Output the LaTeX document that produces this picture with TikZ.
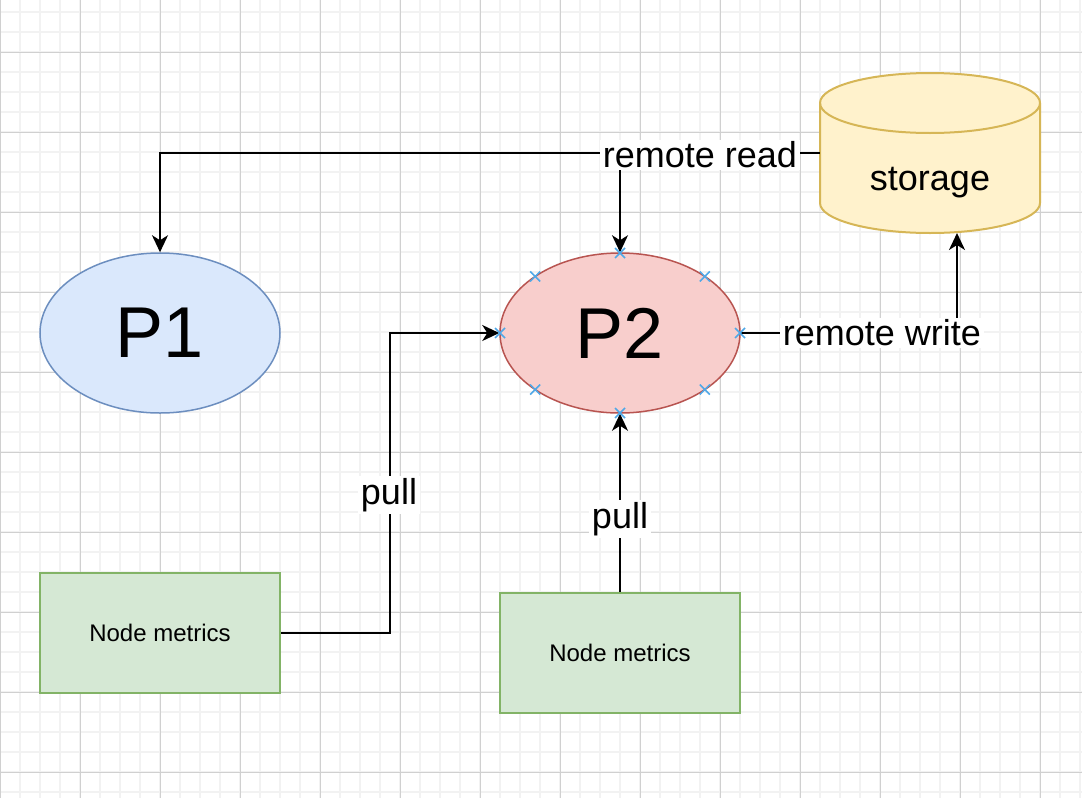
\documentclass[tikz,border=0pt]{standalone}
\usepackage{fontspec}
\setmainfont{Liberation Sans}
\usetikzlibrary{arrows.meta,shapes.geometric}
\definecolor{bluefill}{HTML}{DAE8FC}
\definecolor{bluedraw}{HTML}{6C8EBF}
\definecolor{redfill}{HTML}{F8CECC}
\definecolor{reddraw}{HTML}{B85450}
\definecolor{yelfill}{HTML}{FFF2CC}
\definecolor{yeldraw}{HTML}{D6B656}
\definecolor{grnfill}{HTML}{D5E8D4}
\definecolor{grndraw}{HTML}{82B366}
\definecolor{gridminor}{HTML}{F2F2F2}
\definecolor{gridmajor}{HTML}{D0D0D0}
\definecolor{markblue}{HTML}{4FA8E8}
\tikzset{
  proc/.style={ellipse, minimum width=240pt, minimum height=160pt, inner sep=0pt, line width=1.5pt, font=\fontsize{72}{80}\selectfont},
  metricbox/.style={rectangle, minimum width=240pt, minimum height=120pt, inner sep=0pt, fill=grnfill, draw=grndraw, line width=2pt, font=\fontsize{24}{28}\selectfont},
  conn/.style={line width=2pt, -{Stealth[length=17pt,width=16pt,inset=5pt]}},
  elabel/.style={fill=white, inner xsep=3pt, inner ysep=2pt, font=\fontsize{36}{40}\selectfont},
  xmark/.style={markblue, line width=1.5pt}
}
\begin{document}
\begin{tikzpicture}[x=1pt,y=-1pt]
\useasboundingbox (0,0) rectangle (1082,798);
\fill[white] (0,0) rectangle (1082,798);
% grid
\foreach \x in {0,20,...,1080} \draw[gridminor, line width=1.5pt] (\x,0) -- (\x,798);
\foreach \y in {12,32,...,792} \draw[gridminor, line width=1.5pt] (0,\y) -- (1082,\y);
\foreach \x in {0,80,...,1040} \draw[gridmajor, line width=0.8pt] (\x,0) -- (\x,798);
\foreach \y in {52,132,...,772} \draw[gridmajor, line width=0.8pt] (0,\y) -- (1082,\y);

% nodes
\node[proc, fill=bluefill, draw=bluedraw] (p1) at (160,333) {P1};
\node[proc, fill=redfill, draw=reddraw] (p2) at (620,333) {P2};
\node[metricbox] (nm1) at (160,633) {Node metrics};
\node[metricbox] (nm2) at (620,653) {Node metrics};

% storage cylinder
\node[rectangle, minimum width=220pt, minimum height=160pt, inner sep=0pt] (storage) at (930,153) {};
\path[fill=yelfill, draw=yeldraw, line width=2pt] (820,103) -- (820,203)
  arc[start angle=180, end angle=360, x radius=110pt, y radius=30pt] -- (1040,103)
  arc[start angle=0, end angle=180, x radius=110pt, y radius=30pt] -- cycle;
\draw[yeldraw, line width=2pt] (1040,103) arc[start angle=0, end angle=-180, x radius=110pt, y radius=30pt];
\node[font=\fontsize{36}{40}\selectfont] (stlabel) at (930,183) {storage};

% connection points
\coordinate (sw) at (957,233);
\coordinate (pbend) at (390,633);

% edges
\draw[conn] (storage.west) -| (p1.north);
\draw[conn] (storage.west) -| (p2.north);
\draw[conn] (p2.east) -| (sw);
\draw[conn] (nm1.east) -- (pbend) |- (p2.west);
\draw[conn] (nm2.north) -- (p2.south);

% edge labels
\node[elabel] (lread) at (700,155) {remote read};
\node[elabel] (lwrite) at (882,333) {remote write};
\node[elabel] (lpull1) at (389,495) {pull};
\node[elabel] (lpull2) at (620,519) {pull};

% connection point marks on P2
\foreach \a in {0,45,...,315} {
  \path (p2.center) ++(\a:120pt and 80pt) coordinate (m);
  \draw[xmark] ([shift={(-5pt,-5pt)}]m) -- ([shift={(5pt,5pt)}]m);
  \draw[xmark] ([shift={(-5pt,5pt)}]m) -- ([shift={(5pt,-5pt)}]m);
}
\end{tikzpicture}
\end{document}
